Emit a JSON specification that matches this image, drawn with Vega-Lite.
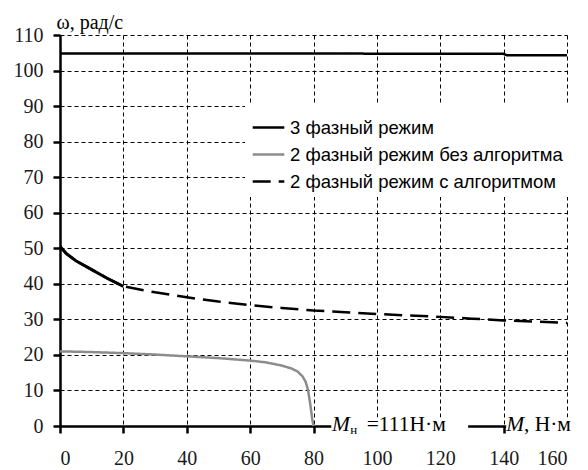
{
  "$schema": "https://vega.github.io/schema/vega-lite/v6.json",
  "width": 507,
  "height": 391,
  "autosize": "none",
  "padding": {"left": 60, "top": 35, "right": 21, "bottom": 44},
  "background": "white",
  "config": {
    "view": {"stroke": null},
    "font": "Liberation Serif",
    "axis": {
      "domainColor": "black", "domainWidth": 2.5,
      "tickColor": "black", "tickWidth": 2.5, "tickSize": 7,
      "gridColor": "black", "gridDash": [4, 3], "gridWidth": 1, "gridOpacity": 1,
      "labelFont": "Liberation Serif", "labelFontSize": 20, "labelColor": "#1a1a1a", "labelOverlap": false,
      "titleFont": "Liberation Serif", "titleFontWeight": "normal", "titleColor": "black"
    }
  },
  "datasets": {
    "curves": [
      {"s": "3 фазный режим", "m": 0, "w": 104.8},
      {"s": "3 фазный режим", "m": 40, "w": 104.8},
      {"s": "3 фазный режим", "m": 80, "w": 104.8},
      {"s": "3 фазный режим", "m": 120, "w": 104.7},
      {"s": "3 фазный режим", "m": 140, "w": 104.7},
      {"s": "3 фазный режим", "m": 141, "w": 104.3},
      {"s": "3 фазный режим", "m": 160, "w": 104.3},
      {"s": "2 фазный режим без алгоритма", "m": 0, "w": 21},
      {"s": "2 фазный режим без алгоритма", "m": 10, "w": 20.8},
      {"s": "2 фазный режим без алгоритма", "m": 20, "w": 20.5},
      {"s": "2 фазный режим без алгоритма", "m": 30, "w": 20.1},
      {"s": "2 фазный режим без алгоритма", "m": 40, "w": 19.6},
      {"s": "2 фазный режим без алгоритма", "m": 50, "w": 19.1},
      {"s": "2 фазный режим без алгоритма", "m": 60, "w": 18.4},
      {"s": "2 фазный режим без алгоритма", "m": 65, "w": 17.9},
      {"s": "2 фазный режим без алгоритма", "m": 70, "w": 17},
      {"s": "2 фазный режим без алгоритма", "m": 73, "w": 16.2},
      {"s": "2 фазный режим без алгоритма", "m": 75, "w": 15.3},
      {"s": "2 фазный режим без алгоритма", "m": 76.5, "w": 14},
      {"s": "2 фазный режим без алгоритма", "m": 77.5, "w": 12.5},
      {"s": "2 фазный режим без алгоритма", "m": 78.3, "w": 10},
      {"s": "2 фазный режим без алгоритма", "m": 79, "w": 6},
      {"s": "2 фазный режим без алгоритма", "m": 79.6, "w": 2},
      {"s": "2 фазный режим без алгоритма", "m": 80, "w": 0},
      {"s": "2 фазный режим с алгоритмом", "m": 0, "w": 50.5},
      {"s": "2 фазный режим с алгоритмом", "m": 2, "w": 48.5},
      {"s": "2 фазный режим с алгоритмом", "m": 5, "w": 46.5},
      {"s": "2 фазный режим с алгоритмом", "m": 10, "w": 44},
      {"s": "2 фазный режим с алгоритмом", "m": 15, "w": 41.5},
      {"s": "2 фазный режим с алгоритмом", "m": 20, "w": 39.3},
      {"s": "2 фазный режим с алгоритмом", "m": 30, "w": 37.6},
      {"s": "2 фазный режим с алгоритмом", "m": 40, "w": 36.2},
      {"s": "2 фазный режим с алгоритмом", "m": 50, "w": 35},
      {"s": "2 фазный режим с алгоритмом", "m": 60, "w": 34},
      {"s": "2 фазный режим с алгоритмом", "m": 70, "w": 33.2},
      {"s": "2 фазный режим с алгоритмом", "m": 80, "w": 32.5},
      {"s": "2 фазный режим с алгоритмом", "m": 90, "w": 32},
      {"s": "2 фазный режим с алгоритмом", "m": 100, "w": 31.5},
      {"s": "2 фазный режим с алгоритмом", "m": 110, "w": 31.1},
      {"s": "2 фазный режим с алгоритмом", "m": 120, "w": 30.7},
      {"s": "2 фазный режим с алгоритмом", "m": 130, "w": 30.2},
      {"s": "2 фазный режим с алгоритмом", "m": 140, "w": 29.7},
      {"s": "2 фазный режим с алгоритмом", "m": 150, "w": 29.4},
      {"s": "2 фазный режим с алгоритмом", "m": 160, "w": 29}
    ],
    "gaps": [
      {"m": 85.6, "m2": 128.8, "w": 0},
      {"m": 140.8, "m2": 168, "w": 0}
    ],
    "notes": [
      {"k": "big", "m": 96.8, "w": 0, "t": "=111Н·м"},
      {"k": "big", "m": 146.4, "w": 0, "t": ", Н·м"},
      {"k": "ital", "m": 85.8, "w": 0, "t": "M"},
      {"k": "ital", "m": 140.8, "w": 0, "t": "M"},
      {"k": "sub", "m": 91.6, "w": 0, "t": "н"}
    ]
  },
  "encoding": {
    "x": {
      "field": "m", "type": "quantitative",
      "scale": {"domain": [0, 160], "nice": false},
      "axis": {"values": [0, 20, 40, 60, 80, 100, 120, 140, 160], "tickCount": 30, "title": null, "labelPadding": 15, "grid": true, "labelFont": "Liberation Serif", "labelFontSize": 20, "labelOverlap": false}
    },
    "y": {
      "field": "w", "type": "quantitative",
      "scale": {"domain": [0, 110], "nice": false},
      "axis": {
        "values": [0, 10, 20, 30, 40, 50, 60, 70, 80, 90, 100, 110], "tickCount": 30,
        "labelFont": "Liberation Serif", "labelFontSize": 20, "labelOverlap": false,
        "title": "ω, рад/с", "titleFont": "Liberation Serif", "titleFontSize": 20, "titleAngle": 0, "titleAlign": "left",
        "titleBaseline": "alphabetic", "titleX": -4, "titleY": -7, "labelPadding": 10
      }
    }
  },
  "layer": [
    {
      "data": {"name": "curves"},
      "mark": {"type": "line", "strokeWidth": 2.5, "clip": false},
      "encoding": {
        "color": {
          "field": "s", "type": "nominal",
          "scale": {"domain": ["3 фазный режим", "2 фазный режим без алгоритма", "2 фазный режим с алгоритмом"], "range": ["black", "#8c8c8c", "black"]},
          "legend": {
            "title": null, "orient": "none", "legendX": 185, "legendY": 69,
            "symbolType": "stroke", "symbolSize": 1000, "symbolStrokeWidth": 2.5,
            "labelFont": "Liberation Sans", "labelFontSize": 18.5, "labelColor": "black", "labelLimit": 400,
            "labelOffset": 4, "rowPadding": -5, "padding": 6, "fillColor": "white"
          }
        },
        "strokeDash": {
          "field": "s", "type": "nominal",
          "scale": {"domain": ["3 фазный режим", "2 фазный режим без алгоритма", "2 фазный режим с алгоритмом"], "range": [[1, 0], [1, 0], [18, 8]]},
          "legend": {
            "title": null, "orient": "none", "legendX": 185, "legendY": 69,
            "symbolType": "stroke", "symbolSize": 1000, "symbolStrokeWidth": 2.5,
            "labelFont": "Liberation Sans", "labelFontSize": 18.5, "labelColor": "black", "labelLimit": 400,
            "labelOffset": 4, "rowPadding": -5, "padding": 6, "fillColor": "white"
          }
        }
      }
    },
    {
      "data": {"name": "curves"},
      "transform": [{"filter": "datum.s === '2 фазный режим с алгоритмом' && datum.m <= 20"}],
      "mark": {"type": "line", "strokeWidth": 3, "color": "black"}
    },
    {
      "data": {"name": "gaps"},
      "mark": {"type": "rect", "color": "white", "clip": false, "height": 17},
      "encoding": {"x2": {"field": "m2"}}
    },
    {
      "data": {"name": "notes"},
      "transform": [{"filter": "datum.k === 'big'"}],
      "mark": {"type": "text", "font": "Liberation Serif", "fontSize": 21.5, "align": "left", "baseline": "alphabetic", "dy": 5, "color": "black"},
      "encoding": {"text": {"field": "t"}}
    },
    {
      "data": {"name": "notes"},
      "transform": [{"filter": "datum.k === 'ital'"}],
      "mark": {"type": "text", "font": "Liberation Serif", "fontStyle": "italic", "fontSize": 21.5, "align": "left", "baseline": "alphabetic", "dy": 5, "color": "black"},
      "encoding": {"text": {"field": "t"}}
    },
    {
      "data": {"name": "notes"},
      "transform": [{"filter": "datum.k === 'sub'"}],
      "mark": {"type": "text", "font": "Liberation Serif", "fontSize": 13, "align": "left", "baseline": "alphabetic", "dy": 8, "color": "black"},
      "encoding": {"text": {"field": "t"}}
    }
  ]
}
